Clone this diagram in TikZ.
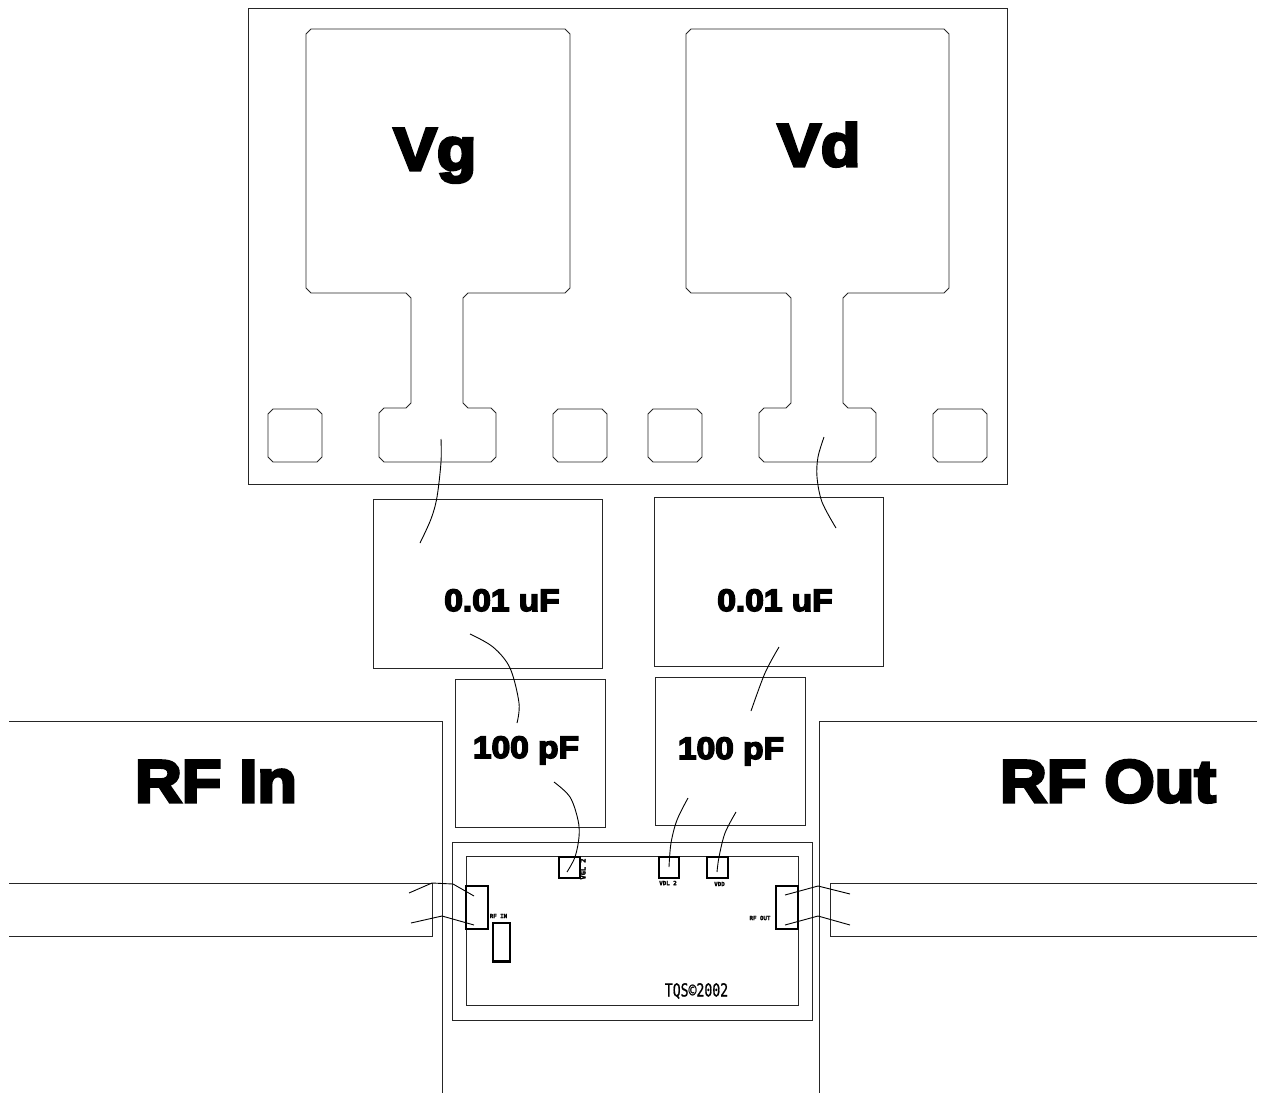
\documentclass[tikz,border=0pt]{standalone}
\usepackage{fontspec}
\setmainfont{Liberation Sans}
\newfontfamily\heavyf[UprightFont=* Bold,FakeBold=5,FakeStretch=1.08]{Liberation Sans}
\newfontfamily\smallf[UprightFont=* Bold,FakeBold=3]{DejaVu Sans Mono}
\newfontfamily\markf[FakeBold=1]{DejaVu Sans Mono}
\tikzset{
  ln/.style={draw=black!85,line width=0.95pt,line join=miter},
  bw/.style={draw=black,line width=0.9pt},
  wire/.style={bw,smooth,tension=0.55},
  thick box/.style={draw=black,line width=2.2pt},
  big/.style={inner sep=0pt,anchor=base,font=\heavyf\fontsize{60}{60}\selectfont},
  mid/.style={inner sep=0pt,anchor=base,font=\heavyf\fontsize{31}{31}\selectfont},
  tiny label/.style={inner sep=0pt,font=\smallf\fontsize{5.8}{6}\selectfont},
}
\begin{document}
\begin{tikzpicture}[x=1pt,y=-1pt]
\useasboundingbox (0,0) rectangle (1263,1092);
\begin{scope}
% carrier
\draw[ln] (248,8) rectangle (1007,484);
% Vg pad
\draw[ln] (311,29)--(565,29)--(570,34)--(570,288)--(565,293)--(468,293)--(463,298)--(463,403)--(468,408)--(491,408)--(496,413)--(496,457)--(491,462)--(384,462)--(379,457)--(379,413)--(384,408)--(406,408)--(411,403)--(411,298)--(406,293)--(311,293)--(306,288)--(306,34)--cycle;
% Vd pad
\draw[ln] (691,29)--(944,29)--(949,34)--(949,288)--(944,293)--(848,293)--(843,298)--(843,403)--(848,408)--(871,408)--(876,413)--(876,457)--(871,462)--(764,462)--(759,457)--(759,413)--(764,408)--(786,408)--(791,403)--(791,298)--(786,293)--(691,293)--(686,288)--(686,34)--cycle;
% small pads
\foreach \x in {268,553,648,933}{
  \draw[ln] (\x+5,409)--(\x+49,409)--(\x+54,414)--(\x+54,457)--(\x+49,462)--(\x+5,462)--(\x,457)--(\x,414)--cycle;
}
% capacitors
\draw[ln] (373,499) rectangle (602,668);
\draw[ln] (654,497) rectangle (883,666);
\draw[ln] (455,679) rectangle (605,827);
\draw[ln] (655,677) rectangle (805,825);
% RF lines
\draw[ln] (9,721)--(442,721)--(442,1093);
\draw[ln] (1257,721)--(819,721)--(819,1093);
\draw[ln] (9,883)--(432,883)--(432,936)--(9,936);
\draw[ln] (1257,883)--(830,883)--(830,936)--(1257,936);
% die
\draw[ln] (452,842) rectangle (812,1020);
\draw[ln] (466,856) rectangle (798,1005);
% die pads
\draw[thick box] (466,886) rectangle (488,929);
\draw[thick box] (776,886) rectangle (798,929);
\draw[thick box] (559,857) rectangle (580,878);
\draw[thick box] (659,857) rectangle (679,878);
\draw[thick box] (707,857) rectangle (728,878);
\draw[draw=black,line width=2pt] (493,923) rectangle (510,962);
\fill[black] (492,960) rectangle (511,963);
\fill[black] (492,922) rectangle (511,924);
% bond wires
\draw[bw] (409,893)--(432,883)--(453,884)--(474,896);
\draw[bw] (411,923)--(442,916)--(474,925);
\draw[bw] (850,894)--(818,886)--(785,895);
\draw[bw] (850,925)--(818,916)--(785,925);
\draw[wire] plot coordinates {(441,439) (441,462) (437,497) (431,519) (420,543)};
\draw[wire] plot coordinates {(824,437) (818,457) (817,477) (822,502) (836,528)};
\draw[wire] plot coordinates {(470,634) (493,647) (510,668) (519,703) (517,723)};
\draw[wire] plot coordinates {(779,647) (765,673) (751,711)};
\draw[wire] plot coordinates {(554,782) (570,797) (578,820) (579,837) (575,857) (567,872)};
\draw[wire] plot coordinates {(688,798) (677,820) (671,843) (669,867)};
\draw[wire] plot coordinates {(736,812) (725,833) (719,857) (717,872)};
\end{scope}
% labels
\node[big] (vg) at (435,170) {Vg};
\node[big] (vd) at (819,166) {Vd};
\node[big] (rfin) at (216,802) {RF In};
\node[big] (rfout) at (1108,802) {RF Out};
\node[mid] (c1) at (502,611) {0.01 uF};
\node[mid] (c2) at (775,611) {0.01 uF};
\node[mid] (c3) at (526,758) {100 pF};
\node[mid] (c4) at (731,759) {100 pF};
\node[tiny label] (t1) at (498.5,916) {RF IN};
\node[tiny label] (t2) at (760,918) {RF OUT};
\node[tiny label] (t3) at (668,883) {VDL 2};
\node[tiny label] (t4) at (719.5,884) {VDD};
\node[tiny label,rotate=90,font=\smallf\fontsize{7}{7}\selectfont] (t5) at (583,869) {VGL 2};
\node[inner sep=0pt,xscale=0.73,font=\markf\fontsize{18}{18}\selectfont] (t6) at (696.5,991) {TQS©2002};
\end{tikzpicture}
\end{document}
